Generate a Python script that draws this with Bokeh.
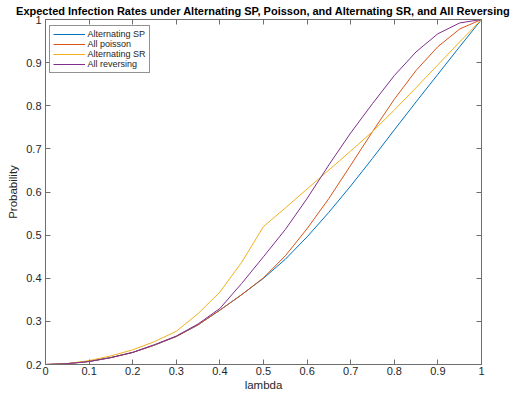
from bokeh.plotting import figure
from bokeh.models import Range1d, LinearAxis, FixedTicker, Legend, LegendItem
from bokeh.embed import file_html
from bokeh.resources import INLINE

lam = [0.00, 0.05, 0.10, 0.15, 0.20, 0.25, 0.30, 0.35, 0.40, 0.45, 0.50,
       0.55, 0.60, 0.65, 0.70, 0.75, 0.80, 0.85, 0.90, 0.95, 1.00]
alt_sp = [0.200, 0.202, 0.207, 0.216, 0.228, 0.245, 0.265, 0.292, 0.326, 0.362, 0.400,
          0.444, 0.496, 0.553, 0.614, 0.678, 0.744, 0.809, 0.873, 0.937, 1.000]
all_poisson = [0.200, 0.202, 0.207, 0.216, 0.228, 0.245, 0.265, 0.292, 0.326, 0.362, 0.401,
               0.452, 0.515, 0.585, 0.662, 0.740, 0.815, 0.882, 0.937, 0.978, 1.000]
alt_sr = [0.200, 0.202, 0.209, 0.220, 0.234, 0.253, 0.277, 0.318, 0.368, 0.437, 0.520,
          0.563, 0.607, 0.651, 0.695, 0.740, 0.790, 0.842, 0.895, 0.948, 1.000]
all_rev = [0.200, 0.202, 0.207, 0.216, 0.228, 0.246, 0.266, 0.294, 0.330, 0.388, 0.450,
           0.513, 0.585, 0.663, 0.737, 0.805, 0.870, 0.925, 0.967, 0.992, 1.000]

series_names = ["Alternating SP", "All poisson", "Alternating SR", "All reversing"]
series_values = [alt_sp, all_poisson, alt_sr, all_rev]
colors = ["#0072BD", "#D95319", "#EDB120", "#7E2F8E"]

x_ticks = [0, 0.1, 0.2, 0.3, 0.4, 0.5, 0.6, 0.7, 0.8, 0.9, 1]
x_tick_labels = ["0", "0.1", "0.2", "0.3", "0.4", "0.5", "0.6", "0.7", "0.8", "0.9", "1"]
y_ticks = [0.2, 0.3, 0.4, 0.5, 0.6, 0.7, 0.8, 0.9, 1]
y_tick_labels = ["0.2", "0.3", "0.4", "0.5", "0.6", "0.7", "0.8", "0.9", "1"]

title = "Expected Infection Rates under Alternating SP, Poisson, and Alternating SR, and All Reversing"
FONT = "Liberation Sans"
AX = "#6e6e6e"
TXT = "#262626"

p = figure(width=510, height=393, output_backend="svg", toolbar_location=None,
           x_range=Range1d(0, 1), y_range=Range1d(0.2, 1),
           x_axis_label="lambda", y_axis_label="Probability",
           min_border_left=45, min_border_right=29, min_border_top=0, min_border_bottom=29)
p.title.text = title
p.title.text_font = FONT
p.title.text_font_size = "11px"
p.title.text_font_style = "bold"
p.title.text_color = "#000000"
p.title.align = "center"
p.title.standoff = 5
p.grid.visible = False
p.outline_line_color = AX
p.outline_line_width = 1

for ax, ticks, labels in ((p.xaxis[0], x_ticks, x_tick_labels), (p.yaxis[0], y_ticks, y_tick_labels)):
    ax.ticker = FixedTicker(ticks=ticks)
    ax.major_label_overrides = {t: l for t, l in zip(ticks, labels)}
    ax.major_tick_in = 5
    ax.major_tick_out = 0
    ax.minor_tick_in = 0
    ax.minor_tick_out = 0
    ax.axis_line_color = AX
    ax.major_tick_line_color = AX
    ax.major_label_text_font = FONT
    ax.major_label_text_font_size = "11px"
    ax.major_label_text_color = TXT
    ax.axis_label_text_font = FONT
    ax.axis_label_text_font_size = "11.5px"
    ax.axis_label_text_font_style = "normal"
    ax.axis_label_text_color = TXT
p.xaxis[0].major_label_standoff = 2
p.xaxis[0].axis_label_standoff = 1
p.yaxis[0].major_label_standoff = 4
p.yaxis[0].axis_label_standoff = 4

top = LinearAxis(ticker=FixedTicker(ticks=x_ticks), major_tick_in=5, major_tick_out=0,
                 minor_tick_in=0, minor_tick_out=0, major_label_text_font_size="0px",
                 major_label_text_color=None,
                 major_label_standoff=0, axis_line_color=AX, major_tick_line_color=AX)
right = LinearAxis(ticker=FixedTicker(ticks=y_ticks), major_tick_in=5, major_tick_out=0,
                   minor_tick_in=0, minor_tick_out=0, major_label_text_font_size="0px",
                   major_label_text_color=None,
                   major_label_standoff=0, axis_line_color=AX, major_tick_line_color=AX)
p.add_layout(top, "above")
p.add_layout(right, "right")

items = []
for name, vals, col in zip(series_names, series_values, colors):
    r = p.line(lam, vals, line_color=col, line_width=1)
    items.append(LegendItem(label=name, renderers=[r]))

legend = Legend(items=items, location=(3.5, 291.5), margin=0, padding=3, spacing=0,
                label_height=10, glyph_height=10, glyph_width=32, label_standoff=3,
                label_text_font=FONT, label_text_font_size="9px", label_text_color=TXT,
                border_line_color=TXT, border_line_width=1, background_fill_color="white",
                background_fill_alpha=1)
p.add_layout(legend)

open("out.html", "w").write(file_html(p, INLINE))
